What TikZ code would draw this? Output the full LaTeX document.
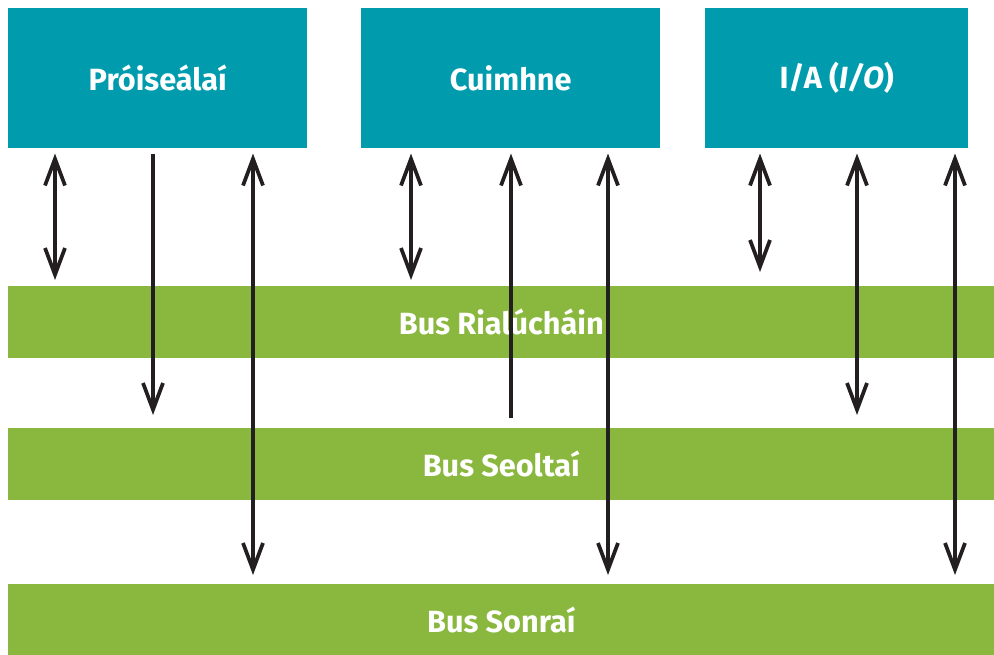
\documentclass[tikz,border=0pt]{standalone}
\usepackage{fontspec}
\setmainfont{Fira Sans}
\usepackage{tikz}
\usetikzlibrary{arrows.meta}

\definecolor{unitteal}{RGB}{0,156,174}
\definecolor{busgreen}{RGB}{138,184,63}
\definecolor{wire}{RGB}{35,31,32}

\begin{document}
\begin{tikzpicture}[x=0.75pt, y=-0.75pt,
	unit/.style={fill=unitteal, text=white, font=\bfseries\fontsize{23}{26}\selectfont, minimum height=105pt, inner sep=0pt, anchor=north west},
	bus/.style={fill=busgreen, text=white, font=\bfseries\fontsize{23}{26}\selectfont, minimum width=739.5pt, minimum height=54pt, inner sep=0pt, anchor=north west},
	barb/.tip={Straight Barb[length=20pt,width=15pt,line width=2.8pt]},
	link/.style={line width=2.5pt, draw=wire, shorten <=3.75pt, barb-barb},
	down/.style={line width=2.5pt, draw=wire, -barb},
]
\useasboundingbox (0,0) rectangle (994,655);
\node[unit, minimum width=224.25pt] (proc) at (8,8) {Próiseálaí};
\node[unit, minimum width=224.25pt] (mem) at (361,8) {Cuimhne};
\node[unit, minimum width=197.25pt] (io) at (705,8) {I/A (\textit{I/O})};

\node[bus] (ctrlbus) at (8,286) {Bus Rialúcháin};
\node[bus] (addrbus) at (8,428) {Bus Seoltaí};
\node[bus] (databus) at (8,584) {Bus Sonraí};

% proiseálaí
\draw[link, shorten >=4.5pt] (proc.south -| 55,0) -- (ctrlbus.north -| 55,0);
\draw[down, shorten <=3.75pt, shorten >=9.75pt] (proc.south -| 153,0) -- (addrbus.north -| 153,0);
\draw[link, shorten >=6.75pt] (proc.south -| 253,0) -- (databus.north -| 253,0);
% cuimhne
\draw[link, shorten >=4.5pt] (mem.south -| 411,0) -- (ctrlbus.north -| 411,0);
\draw[down, shorten <=7.5pt, shorten >=3.75pt] (addrbus.north -| 511,0) -- (mem.south -| 511,0);
\draw[link, shorten >=6.75pt] (mem.south -| 608,0) -- (databus.north -| 608,0);
% I/A
\draw[link, shorten >=10.5pt] (io.south -| 760,0) -- (ctrlbus.north -| 760,0);
\draw[link, shorten >=9.75pt] (io.south -| 857,0) -- (addrbus.north -| 857,0);
\draw[link, shorten >=6.75pt] (io.south -| 955,0) -- (databus.north -| 955,0);
\end{tikzpicture}
\end{document}
